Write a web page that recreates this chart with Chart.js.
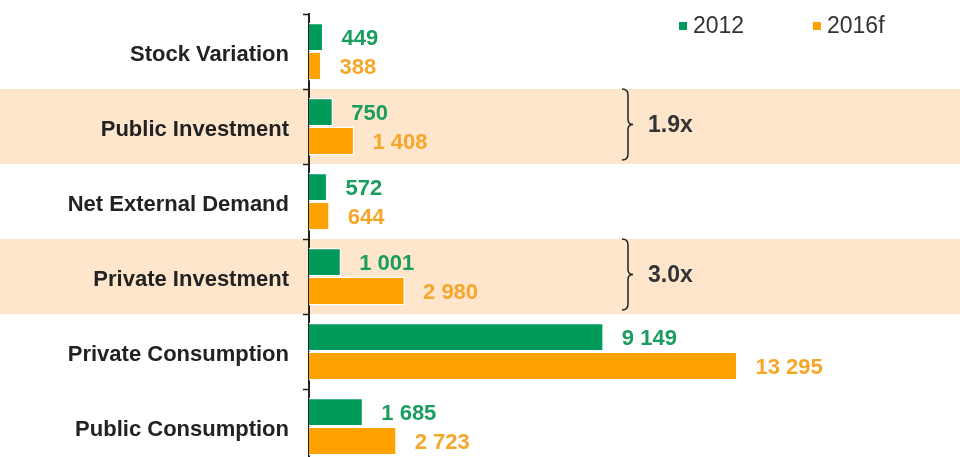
<!DOCTYPE html>
<html>
<head>
<meta charset="utf-8">
<script src="https://cdn.jsdelivr.net/npm/chart.js@4"></script>
<style>
    html, body { margin: 0; padding: 0; background: #fff; overflow: hidden; }
    canvas { display: block; }
</style>
</head>
<body>
<canvas id="gdp-chart" width="960" height="478"></canvas>
<script>
// Data
const categories = ['Stock Variation', 'Public Investment', 'Net External Demand', 'Private Investment', 'Private Consumption', 'Public Consumption'];
const values2012 = [449, 750, 572, 1001, 9149, 1685];
const values2016 = [388, 1408, 644, 2980, 13295, 2723];
const seriesNames = ['2012', '2016f'];
const highlighted = ['Public Investment', 'Private Investment'];
const growthLabels = ['1.9x', '3.0x'];

const GREEN = '#009b5b';
const ORANGE = '#ffa200';
const GREEN_TEXT = '#1a9e5f';
const ORANGE_TEXT = '#f6a72a';
const BAND = '#fde6cb';
const FONT = 'Liberation Sans, Arial, sans-serif';

// thousands with a space, e.g. 13 295
function fmt(v) {
    return String(v).replace(/\B(?=(\d{3})+(?!\d))/g, ' ');
}

/**
 * Beige bands behind the highlighted categories
 */
const bandPlugin = {
    id: 'bands',
    beforeDraw(chart) {
        const ctx = chart.ctx;
        const y = chart.scales.y;
        const half = (y.getPixelForValue(1) - y.getPixelForValue(0)) / 2;
        ctx.save();
        ctx.fillStyle = BAND;
        highlighted.forEach(name => {
            const c = y.getPixelForValue(categories.indexOf(name));
            ctx.fillRect(0, c - half, chart.width, half * 2);
        });
        ctx.restore();
    }
};

/**
 * Value labels, legend and growth brackets
 */
const annotatePlugin = {
    id: 'annotate',
    afterDatasetsDraw(chart) {
        const ctx = chart.ctx;
        ctx.save();

        // value labels to the right of each bar
        ctx.font = 'bold 22px ' + FONT;
        ctx.textBaseline = 'middle';
        ctx.textAlign = 'left';
        chart.data.datasets.forEach((ds, di) => {
            ctx.fillStyle = di === 0 ? GREEN_TEXT : ORANGE_TEXT;
            chart.getDatasetMeta(di).data.forEach((bar, i) => {
                ctx.fillText(fmt(ds.data[i]), bar.x + 18, bar.y + 2);
            });
        });

        // legend
        ctx.font = '23px ' + FONT;
        const legendX = [679, 813];
        chart.data.datasets.forEach((ds, di) => {
            ctx.fillStyle = ds.backgroundColor;
            ctx.fillRect(legendX[di], 22, 8, 8);
            ctx.fillStyle = '#333';
            ctx.fillText(ds.label, legendX[di] + 14, 27);
        });

        // brackets with growth ratio
        const y = chart.scales.y;
        const half = (y.getPixelForValue(1) - y.getPixelForValue(0)) / 2;
        highlighted.forEach((name, k) => {
            const c = y.getPixelForValue(categories.indexOf(name)) - 2;
            const top = c - half + 2, bot = c + half - 2;
            const bx = 622;
            ctx.strokeStyle = '#222';
            ctx.lineWidth = 1.5;
            ctx.beginPath();
            ctx.moveTo(bx, top);
            ctx.quadraticCurveTo(bx + 6, top, bx + 6, top + 6);
            ctx.lineTo(bx + 6, c - 5);
            ctx.quadraticCurveTo(bx + 6, c, bx + 11, c);
            ctx.quadraticCurveTo(bx + 6, c, bx + 6, c + 5);
            ctx.lineTo(bx + 6, bot - 6);
            ctx.quadraticCurveTo(bx + 6, bot, bx, bot);
            ctx.stroke();
            ctx.fillStyle = '#333';
            ctx.font = 'bold 23px ' + FONT;
            ctx.fillText(growthLabels[k], bx + 26, c + 1);
        });

        ctx.restore();
    }
};

const ctx = document.getElementById('gdp-chart');
new Chart(ctx, {
    type: 'bar',
    data: {
        labels: categories,
        datasets: [{
            label: seriesNames[0],
            data: values2012,
            backgroundColor: GREEN,
            borderColor: '#ffffff',
            borderWidth: 1.5,
            borderSkipped: 'start'
        }, {
            label: seriesNames[1],
            data: values2016,
            backgroundColor: ORANGE,
            borderColor: '#ffffff',
            borderWidth: 1.5,
            borderSkipped: 'start'
        }]
    },
    options: {
        indexAxis: 'y',
        responsive: false,
        animation: false,
        categoryPercentage: 0.77,
        barPercentage: 1,
        layout: { padding: { top: 14, bottom: 14, left: 0, right: 0 } },
        plugins: {
            legend: { display: false },
            tooltip: { enabled: false }
        },
        scales: {
            x: {
                display: false,
                min: 0,
                max: 20200
            },
            y: {
                afterFit: (scale) => {
                    scale.width = 309;
                    // labels sit between ticks, no extra room needed at the ends
                    scale.paddingTop = 0;
                    scale.paddingBottom = 0;
                },
                grid: {
                    drawOnChartArea: false,
                    tickLength: 6,
                    tickColor: '#222',
                    tickWidth: 1.5
                },
                border: { color: '#222', width: 2 },
                ticks: {
                    padding: 14,
                    labelOffset: 3,
                    color: '#222',
                    font: { family: FONT, size: 22, weight: 'bold' }
                }
            }
        }
    },
    plugins: [bandPlugin, annotatePlugin]
});
</script>
</body>
</html>
